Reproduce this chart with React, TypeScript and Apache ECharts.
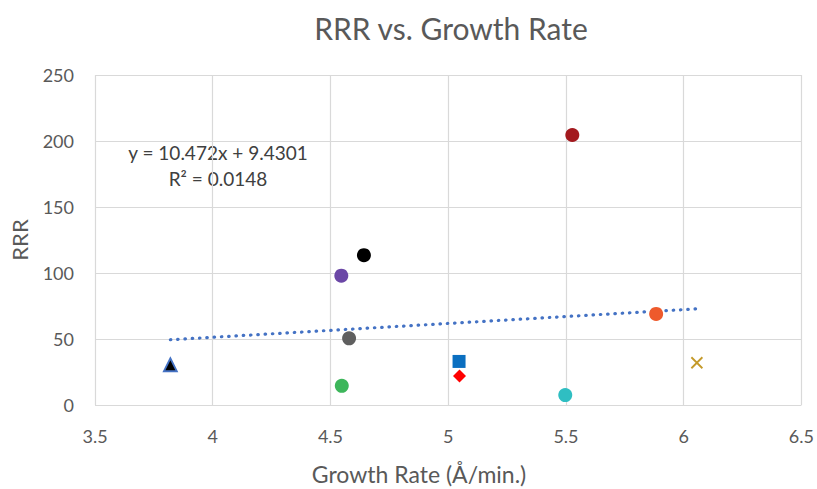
import React, { useEffect, useRef } from "react";
import * as echarts from "echarts";

// Growth rate (Å/min.) and RRR for each sample
const growthRate = [3.82, 4.579, 4.548, 4.546, 4.642, 5.046, 5.048, 5.497, 5.527, 5.883, 6.056];
const rrr = [30.5, 50.5, 14.5, 98, 113.5, 33, 22, 7.5, 204.5, 69, 32];
const symbols = [
  "triangle", "circle", "circle", "circle", "circle", "rect", "diamond",
  "circle", "circle", "circle", "path://M0,0L10,10M10,0L0,10",
];
const colors = [
  "#000000", "#5f5f5f", "#3db65b", "#6b47a6", "#000000", "#0b6fc0", "#ff0000",
  "#2fbec2", "#a3191e", "#ee5a2c", "#c49a2a",
];
const sizes = [13, 14, 14, 14, 14, 13, 13, 14, 14, 14, 11];

// Linear trendline y = 10.472x + 9.4301, R² = 0.0148
const slope = 10.472;
const intercept = 9.4301;
const eqText = "y = 10.472x + 9.4301";
const r2Text = "R² = 0.0148";

const xTicks = { min: 3.5, max: 6.5, interval: 0.5 };
const yTicks = { min: 0, max: 250, interval: 50 };
const xName = "Growth Rate (Å/min.)";
const yName = "RRR";

const FONT = "Lato, 'Open Sans', sans-serif";

export default function App() {
  const ref = useRef<HTMLDivElement>(null);

  useEffect(() => {
    if (!ref.current) return;
    const chart = echarts.init(ref.current, null, { renderer: "svg" });

    const xMin = Math.min(...growthRate);
    const xMax = Math.max(...growthRate);
    const trend = [
      [xMin, slope * xMin + intercept],
      [xMax, slope * xMax + intercept],
    ];

    const pointSeries = growthRate.map((x, i) => {
      const isCross = symbols[i].startsWith("path://");
      const isTri = symbols[i] === "triangle";
      return {
        type: "scatter",
        data: [[x, rrr[i]]],
        symbol: symbols[i],
        symbolSize: sizes[i],
        z: 3,
        itemStyle: isCross
          ? { color: "none", borderColor: colors[i], borderWidth: 1.8, opacity: 1 }
          : isTri
          ? { color: colors[i], borderColor: "#4472c4", borderWidth: 1.8, opacity: 1 }
          : { color: colors[i], opacity: 1 },
      };
    });

    const labelText = (text: string, x: number, y: number, size: number, fill: string) => ({
      type: "text",
      x,
      y,
      style: {
        text,
        fontFamily: FONT,
        fontSize: size,
        fill,
        align: "center",
        verticalAlign: "middle",
      },
    });

    chart.setOption({
      animation: false,
      backgroundColor: "#ffffff",
      title: {
        text: "RRR vs. Growth Rate",
        left: 446,
        top: 8,
        textAlign: "center",
        textStyle: { fontFamily: FONT, fontSize: 30, fontWeight: "normal", color: "#595959" },
      },
      grid: { left: 93, right: 15, top: 75, bottom: 84 },
      xAxis: {
        type: "value",
        ...xTicks,
        axisLine: { show: false },
        axisTick: { show: false },
        axisLabel: { fontFamily: FONT, fontSize: 18, color: "#595959", margin: 22 },
        splitLine: { show: true, lineStyle: { color: "#d9d9d9", width: 1.2 } },
      },
      yAxis: {
        type: "value",
        ...yTicks,
        name: yName,
        nameLocation: "middle",
        nameGap: 65,
        nameTextStyle: { fontFamily: FONT, fontSize: 22, color: "#595959" },
        axisLine: { show: false },
        axisTick: { show: false },
        axisLabel: { fontFamily: FONT, fontSize: 18, color: "#595959", margin: 21 },
        splitLine: { show: true, lineStyle: { color: "#d9d9d9", width: 1.2 } },
      },
      graphic: [
        labelText(eqText, 218, 152, 19, "#404040"),
        labelText(r2Text, 218, 178, 19, "#404040"),
        labelText(xName, 419, 474, 23, "#595959"),
      ],
      series: [
        {
          type: "line",
          data: trend,
          symbol: "none",
          z: 2,
          lineStyle: { color: "#4472c4", width: 3.2, type: [0.5, 6.8], cap: "round" },
        },
        ...pointSeries,
      ],
    });

    return () => chart.dispose();
  }, []);

  return (
    <div
      ref={ref}
      style={{ position: "absolute", left: 0, top: 0, width: 817, height: 489 }}
    />
  );
}
